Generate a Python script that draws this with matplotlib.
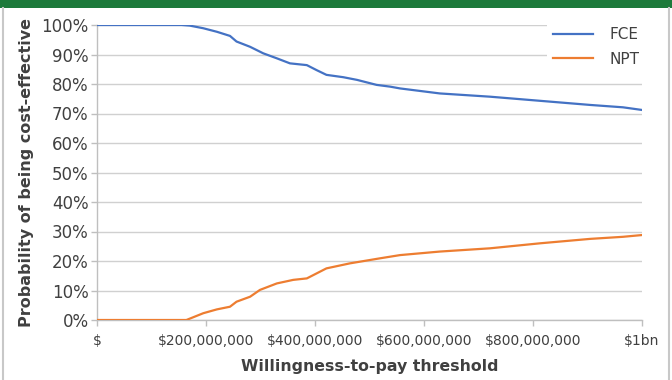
import numpy as np
import matplotlib
matplotlib.use("Agg")
import matplotlib.pyplot as plt
from matplotlib.ticker import FuncFormatter, MultipleLocator
from matplotlib.lines import Line2D
from matplotlib.patches import Rectangle

# willingness-to-pay threshold in $ millions, probability in %
fce_x = [0, 100, 155, 170, 195, 220, 244, 256, 281, 293, 305, 330, 354, 385, 403,
         421, 452, 477, 513, 538, 556, 629, 721, 813, 905, 965, 1000]
fce_y = [100, 100, 100, 99.8, 98.9, 97.7, 96.3, 94.4, 92.6, 91.5, 90.4, 88.7, 87.0,
         86.4, 84.7, 83.1, 82.3, 81.4, 79.7, 79.1, 78.5, 76.8, 75.7, 74.3, 72.9, 72.1, 71.2]

npt_x = [0, 100, 164, 195, 220, 244, 256, 281, 299, 330, 360, 385, 403, 421, 464,
         519, 556, 629, 721, 813, 905, 965, 1000]
npt_y = [0, 0, 0, 2.3, 3.6, 4.5, 6.2, 7.9, 10.2, 12.4, 13.6, 14.1, 15.8, 17.5, 19.2,
         20.9, 22.0, 23.2, 24.3, 26.0, 27.5, 28.2, 28.8]

xticklabels = ["$", "$200,000,000", "$400,000,000", "$600,000,000", "$800,000,000", "$1bn"]

txt = "#404040"
grid = "#d0d0d0"

fig = plt.figure(figsize=(6.72, 3.8), dpi=100)
fig.patch.set_facecolor("white")

# green header strip and grey frame
fig.patches.append(Rectangle((0, 1 - 8/380), 1, 8/380, transform=fig.transFigure,
                             facecolor="#1d7a3b", edgecolor="none", zorder=0))
fig.lines.append(Line2D([2.5/672, 2.5/672], [0, 1 - 8/380], transform=fig.transFigure,
                        color="#c8c8c8", lw=1.5))
fig.lines.append(Line2D([668.5/672, 668.5/672], [0, 1 - 8/380], transform=fig.transFigure,
                        color="#c8c8c8", lw=1.5))

ax = fig.add_axes([97/672, 1 - 320/380, 545/672, 295/380])
ax.plot(fce_x, fce_y, color="#4472c4", lw=1.6, label="FCE", zorder=3)
ax.plot(npt_x, npt_y, color="#ed7d31", lw=1.6, label="NPT", zorder=3)

ax.set_xlim(0, 1000)
ax.set_ylim(0, 100)
ax.set_xticks([0, 200, 400, 600, 800, 1000])
ax.set_xticklabels(xticklabels)
ax.yaxis.set_major_locator(MultipleLocator(10))
ax.yaxis.set_major_formatter(FuncFormatter(lambda v, p: "%d%%" % v))

ax.grid(axis="y", color=grid, lw=1)
ax.set_axisbelow(True)
for s in ["top", "right"]:
    ax.spines[s].set_visible(False)
for s in ["left", "bottom"]:
    ax.spines[s].set_color("#bfbfbf")
    ax.spines[s].set_linewidth(1)
ax.tick_params(axis="both", colors="#bfbfbf", length=4, width=1, direction="out")
ax.tick_params(axis="y", labelcolor=txt, labelsize=12, pad=2)
ax.tick_params(axis="x", labelcolor=txt, labelsize=10, pad=6)

ax.set_xlabel("Willingness-to-pay threshold", fontsize=11.3, fontweight="bold",
              color=txt, labelpad=8)
ax.set_ylabel("Probability of being cost-effective", fontsize=11.5, fontweight="bold",
              color=txt, labelpad=5)

leg = ax.legend(loc="upper right", bbox_to_anchor=(646/672, 1 - 21/380),
                bbox_transform=fig.transFigure, frameon=True, facecolor="white",
                edgecolor="none", framealpha=1, fontsize=11, handlelength=2.6,
                handletextpad=1.1, labelspacing=0.62, borderpad=0.4, borderaxespad=0)
leg.set_zorder(5)
for t in leg.get_texts():
    t.set_color(txt)

fig.savefig("out.png", dpi=100)
